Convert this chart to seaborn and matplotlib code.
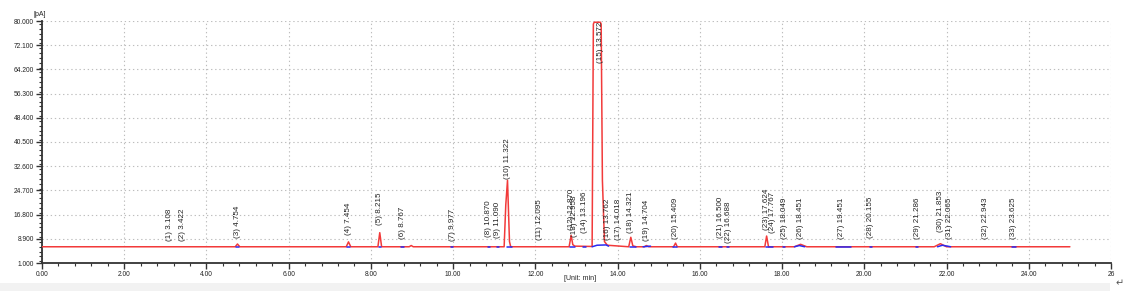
import matplotlib
matplotlib.use("Agg")
import matplotlib.pyplot as plt
from matplotlib.patches import Rectangle
from matplotlib.ticker import MultipleLocator, FixedLocator
import seaborn as sns
import pandas as pd

# ---------------- data ----------------
red_time = [0.00, 4.70, 4.754, 4.81, 7.40, 7.454, 7.51, 8.17, 8.215, 8.26,
            8.93, 8.98, 9.03, 11.24, 11.28, 11.322, 11.37, 11.40, 12.82, 12.87,
            12.91, 12.96, 13.38, 13.41, 13.43, 13.58, 13.60, 13.63, 13.68, 13.75,
            14.27, 14.321, 14.37, 14.45, 14.65, 14.70, 14.76, 15.36, 15.409, 15.45,
            17.58, 17.624, 17.67, 18.30, 18.45, 18.60, 21.70, 21.85, 22.00, 25.00]
red_pA = [6.3, 6.3, 7.2, 6.3, 6.3, 7.9, 6.3, 6.3, 10.9, 6.3,
          6.3, 6.7, 6.3, 6.3, 20.0, 28.0, 8.0, 6.3, 6.3, 10.0,
          7.0, 6.5, 6.4, 79.0, 79.6, 79.6, 79.0, 28.0, 8.0, 6.8,
          6.3, 9.4, 6.6, 6.3, 6.3, 6.7, 6.3, 6.3, 7.5, 6.3,
          6.3, 9.8, 6.3, 6.3, 7.1, 6.3, 6.3, 7.3, 6.3, 6.3]

blue_time = [4.72, 4.78, 7.42, 7.48, 8.19, 8.25, 8.74, 8.80, 9.95, 10.00,
             10.85, 10.90, 11.06, 11.12, 11.30, 11.42, 12.84, 12.96, 13.17, 13.22,
             13.38, 13.50, 13.72, 13.78, 14.30, 14.45, 14.62, 14.80, 15.35, 15.45,
             16.47, 16.53, 16.66, 16.72, 17.60, 17.78, 18.02, 18.07, 18.30, 18.42, 18.55,
             19.30, 19.68, 20.13, 20.18, 21.26, 21.31, 21.78, 21.90, 22.10, 23.58, 23.70]
blue_pA = [6.3, 6.3, 6.3, 6.3, 6.3, 6.3, 6.3, 6.3, 6.3, 6.3,
           6.3, 6.3, 6.3, 6.3, 6.3, 6.3, 6.3, 6.3, 6.3, 6.3,
           6.3, 6.8, 6.9, 6.5, 6.3, 6.3, 6.3, 6.5, 6.3, 6.3,
           6.3, 6.3, 6.3, 6.3, 6.3, 6.3, 6.3, 6.3, 6.3, 6.7, 6.3,
           6.3, 6.3, 6.3, 6.3, 6.3, 6.3, 6.3, 6.8, 6.3, 6.3, 6.3]
blue_seg = [1, 1, 2, 2, 3, 3, 4, 4, 5, 5,
            6, 6, 7, 7, 8, 8, 9, 9, 10, 10,
            11, 11, 11, 11, 12, 12, 13, 13, 14, 14,
            15, 15, 16, 16, 17, 17, 18, 18, 19, 19, 19,
            20, 20, 21, 21, 22, 22, 23, 23, 23, 24, 24]

peak_ids = list(range(1, 34))
peak_rts = [3.108, 3.422, 4.754, 7.454, 8.215, 8.767, 9.977, 10.870, 11.090, 11.322,
            12.095, 12.870, 12.958, 13.196, 13.572, 13.762, 14.018, 14.321, 14.704, 15.409,
            16.500, 16.688, 17.624, 17.767, 18.049, 18.451, 19.451, 20.155, 21.286, 21.853,
            22.065, 22.943, 23.625]
label_pA = [8.2, 8.2, 9.2, 10.1, 13.4, 8.8, 8.3, 9.6, 9.2, 28.5,
            8.5, 11.8, 9.6, 10.8, 66.3, 8.5, 8.5, 10.9, 8.2, 8.7,
            9.1, 7.6, 11.8, 10.7, 8.7, 8.7, 8.7, 9.1, 8.7, 11.2,
            8.7, 8.7, 8.7]

y_ticks = [1.0, 8.9, 16.8, 24.7, 32.6, 40.5, 48.4, 56.3, 64.2, 72.1, 80.0]
x_ticks = [0, 2, 4, 6, 8, 10, 12, 14, 16, 18, 20, 22, 24, 26]
x_labels = ["0.00", "2.00", "4.00", "6.00", "8.00", "10.00", "12.00", "14.00",
            "16.00", "18.00", "20.00", "22.00", "24.00", "26"]

# ---------------- figure ----------------
sns.set_theme(style="white")
plt.rcParams["font.family"] = ["Liberation Sans", "DejaVu Sans"]

fig = plt.figure(figsize=(11.26, 2.91), dpi=100)
ax = fig.add_axes([42 / 1126, 28 / 291, (1111 - 42) / 1126, (263 - 21) / 291])

red_df = pd.DataFrame({"time": red_time, "pA": red_pA})
blue_df = pd.DataFrame({"time": blue_time, "pA": blue_pA, "seg": blue_seg})

sns.lineplot(data=red_df, x="time", y="pA", ax=ax, color="#f23a3a", lw=1.1,
             sort=False, estimator=None, zorder=3)
sns.lineplot(data=blue_df, x="time", y="pA", units="seg", estimator=None, ax=ax,
             color="#2a2af0", lw=1.1, sort=False, zorder=4)

for pid, rt, ly in zip(peak_ids, peak_rts, label_pA):
    ax.text(rt, ly, f"({pid}) {rt:.3f}", rotation=90, ha="center", va="bottom",
            fontsize=5.8, color="#222222", zorder=5)

ax.set_xlim(0, 26)
ax.set_ylim(1, 80)
ax.xaxis.set_major_locator(FixedLocator(x_ticks))
ax.set_xticklabels(x_labels)
ax.xaxis.set_minor_locator(MultipleLocator(0.4))
ax.yaxis.set_major_locator(FixedLocator(y_ticks))
ax.set_yticklabels([f"{v:.3f}" for v in y_ticks])
ax.yaxis.set_minor_locator(MultipleLocator(7.9 / 5))
ax.tick_params(axis="both", which="major", labelsize=4.8, colors="#333333",
               length=4, width=1, direction="out", pad=2, labelcolor="#222222")
ax.tick_params(axis="both", which="minor", length=2, width=0.8, colors="#333333",
               direction="out")
ax.tick_params(axis="x", which="both", bottom=True)
ax.tick_params(axis="y", which="both", left=True)
ax.set_xlabel("")
ax.set_ylabel("")

ax.grid(True, which="major", color="#bdbdbd", lw=0.8, linestyle=(0, (1.2, 2.5)))
for side in ("top", "right"):
    ax.spines[side].set_visible(False)
for side in ("left", "bottom"):
    ax.spines[side].set_color("#333333")
    ax.spines[side].set_linewidth(1.3)

fig.text(40 / 1126, 1 - 14 / 291, "[pA]", fontsize=5, ha="center", va="center",
         color="#222222")
fig.text(580 / 1126, 1 - 278 / 291, "[Unit: min]", fontsize=5, ha="center",
         va="center", color="#222222")
fig.patches.append(Rectangle((0, 0), 1110 / 1126, 8 / 291, transform=fig.transFigure,
                             facecolor="#f2f2f2", edgecolor="none", zorder=0))
fig.text(1120 / 1126, 1 - 283 / 291, "\u21b5", fontsize=7, ha="center", va="center",
         color="#555555", family=["DejaVu Sans"])

fig.savefig("out.png", dpi=100)
